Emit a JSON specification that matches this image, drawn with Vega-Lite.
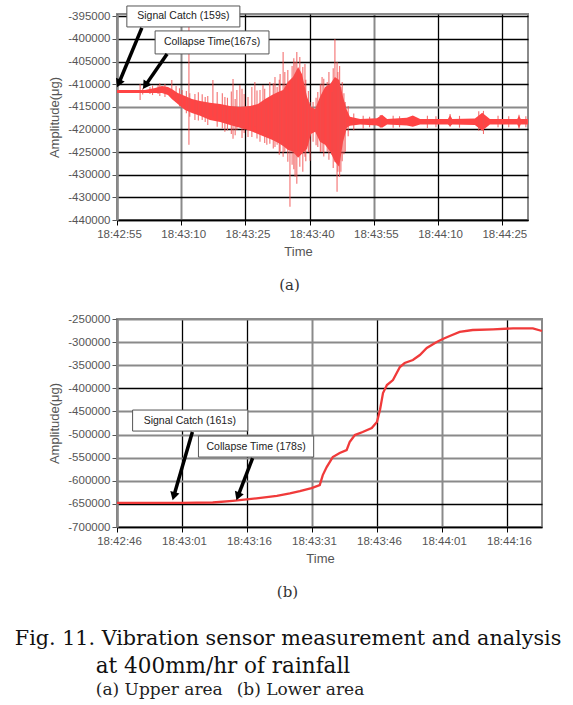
{
  "$schema": "https://vega.github.io/schema/vega-lite/v6.json",
  "background": "white",
  "padding": {"left": 14, "top": 4, "right": 5, "bottom": 5},
  "config": {
    "view": {"stroke": "#8a8a8a", "strokeWidth": 2},
    "axis": {"labelFont": "Liberation Sans", "labelFontSize": 11.5, "labelColor": "#555", "titleFont": "Liberation Sans", "titleFontSize": 13, "titleFontWeight": "normal", "titleColor": "#555", "labelOverlap": false},
    "concat": {"spacing": 18}
  },
  "title": {
    "text": "at 400mm/hr of rainfall",
    "subtitle": "(a) Upper area \u2002(b) Lower area",
    "orient": "bottom", "anchor": "start", "frame": "bounds",
    "font": "DejaVu Serif", "fontSize": 21.5, "fontWeight": "normal", "color": "#111",
    "subtitleFont": "DejaVu Serif", "subtitleFontSize": 17, "subtitleColor": "#222", "subtitlePadding": 4,
    "offset": 8, "dx": 81
  },
  "datasets": {
    "coreA": [
      {"t":55.0,"hi":-411270,"lo":-411930},{"t":58.0,"hi":-411270,"lo":-411930},{"t":61.5,"hi":-411270,"lo":-411930},
      {"t":63.9,"hi":-410820,"lo":-411930},{"t":65.5,"hi":-410380,"lo":-411930},{"t":66.9,"hi":-410600,"lo":-412370},
      {"t":67.8,"hi":-411050,"lo":-413250},{"t":69.2,"hi":-411930,"lo":-414360},{"t":70.9,"hi":-412590,"lo":-415680},
      {"t":72.5,"hi":-413250,"lo":-416340},{"t":74.4,"hi":-413690,"lo":-417000},{"t":76.7,"hi":-414130,"lo":-417890},
      {"t":79.1,"hi":-414360,"lo":-418330},{"t":81.4,"hi":-414800,"lo":-418990},{"t":83.7,"hi":-415020,"lo":-419650},
      {"t":86.1,"hi":-414800,"lo":-420310},{"t":87.9,"hi":-414360,"lo":-420980},{"t":89.6,"hi":-413250,"lo":-421640},
      {"t":91.2,"hi":-412370,"lo":-422300},{"t":92.6,"hi":-411710,"lo":-422960},{"t":93.8,"hi":-411270,"lo":-423630},
      {"t":94.9,"hi":-409500,"lo":-424510},{"t":96.1,"hi":-408400,"lo":-424950},{"t":97.3,"hi":-406190,"lo":-426270},
      {"t":98.2,"hi":-407730,"lo":-425390},{"t":99.4,"hi":-412810,"lo":-424290},{"t":100.3,"hi":-415020,"lo":-420980},
      {"t":101.3,"hi":-415460,"lo":-420530},{"t":102.4,"hi":-412810,"lo":-422740},{"t":103.6,"hi":-410600,"lo":-423400},
      {"t":104.8,"hi":-409940,"lo":-424950},{"t":105.9,"hi":-408400,"lo":-427160},{"t":106.9,"hi":-409060,"lo":-428260},
      {"t":107.8,"hi":-412810,"lo":-422740},{"t":108.7,"hi":-415680,"lo":-419650},{"t":109.4,"hi":-417220,"lo":-419210},
      {"t":111.8,"hi":-417700,"lo":-418900},{"t":115.7,"hi":-417500,"lo":-419100},{"t":116.9,"hi":-416780,"lo":-419650},
      {"t":118.1,"hi":-417700,"lo":-418900},{"t":122.7,"hi":-417400,"lo":-419100},{"t":124.1,"hi":-416900,"lo":-419430},
      {"t":125.8,"hi":-417700,"lo":-418900},{"t":132.3,"hi":-417700,"lo":-418900},{"t":132.8,"hi":-416800,"lo":-419300},
      {"t":133.3,"hi":-417700,"lo":-418900},{"t":138.6,"hi":-417600,"lo":-419000},{"t":140.3,"hi":-416300,"lo":-420300},
      {"t":142.1,"hi":-417700,"lo":-418900},{"t":148.5,"hi":-417700,"lo":-418900},{"t":148.9,"hi":-416900,"lo":-419700},
      {"t":149.3,"hi":-417700,"lo":-418900},{"t":151.0,"hi":-417700,"lo":-418900}
    ],
    "spikesA": [
      {"t":60.4,"hi":-409940,"lo":-413470},{"t":61.0,"hi":-410900,"lo":-412300},{"t":62.7,"hi":-410600,"lo":-412150},
      {"t":63.3,"hi":-410300,"lo":-412400},{"t":64.6,"hi":-410160,"lo":-412150},{"t":65.0,"hi":-409800,"lo":-412600},
      {"t":66.2,"hi":-409940,"lo":-412810},{"t":67.8,"hi":-409060,"lo":-412810},{"t":68.8,"hi":-410380,"lo":-413910},
      {"t":69.6,"hi":-410900,"lo":-414900},{"t":70.2,"hi":-411270,"lo":-415240},{"t":71.2,"hi":-411500,"lo":-416400},
      {"t":71.8,"hi":-394700,"lo":-423400},{"t":72.0,"hi":-412000,"lo":-417200},{"t":73.2,"hi":-412150,"lo":-417890},
      {"t":74.0,"hi":-411800,"lo":-418000},{"t":74.9,"hi":-412200,"lo":-417900},{"t":75.6,"hi":-412810,"lo":-418330},
      {"t":76.2,"hi":-412600,"lo":-419000},{"t":77.4,"hi":-409060,"lo":-417220},{"t":78.4,"hi":-411710,"lo":-419430},
      {"t":79.6,"hi":-412000,"lo":-419800},{"t":80.2,"hi":-412810,"lo":-420530},{"t":80.8,"hi":-413000,"lo":-420200},
      {"t":81.7,"hi":-411600,"lo":-421000},{"t":82.1,"hi":-408840,"lo":-422080},{"t":82.6,"hi":-413300,"lo":-421300},
      {"t":83.0,"hi":-411270,"lo":-420090},{"t":83.7,"hi":-410160,"lo":-419430},{"t":84.2,"hi":-411000,"lo":-421900},
      {"t":84.7,"hi":-412150,"lo":-420760},{"t":85.6,"hi":-412810,"lo":-421640},{"t":86.5,"hi":-410600,"lo":-421640},
      {"t":87.2,"hi":-409500,"lo":-419430},{"t":87.7,"hi":-411400,"lo":-422000},{"t":88.4,"hi":-411270,"lo":-422740},
      {"t":89.1,"hi":-410160,"lo":-420530},{"t":89.5,"hi":-411000,"lo":-423000},{"t":90.0,"hi":-413910,"lo":-423400},
      {"t":90.7,"hi":-409500,"lo":-423180},{"t":91.5,"hi":-409800,"lo":-424200},{"t":91.9,"hi":-408400,"lo":-423850},
      {"t":92.4,"hi":-410600,"lo":-423400},{"t":92.9,"hi":-409000,"lo":-425600},{"t":93.1,"hi":-407730,"lo":-424950},
      {"t":93.8,"hi":-402880,"lo":-426050},{"t":94.2,"hi":-407290,"lo":-424950},{"t":94.9,"hi":-406850,"lo":-427160},
      {"t":95.4,"hi":-411710,"lo":-437090},{"t":95.9,"hi":-406000,"lo":-427800},{"t":96.3,"hi":-404300,"lo":-428800},
      {"t":96.6,"hi":-405090,"lo":-430470},{"t":97.0,"hi":-402880,"lo":-432010},{"t":97.7,"hi":-403990,"lo":-428260},
      {"t":98.4,"hi":-406190,"lo":-429360},{"t":98.9,"hi":-405530,"lo":-426050},{"t":99.1,"hi":-409000,"lo":-427000},
      {"t":99.7,"hi":-411500,"lo":-425000},{"t":100.1,"hi":-413910,"lo":-426940},{"t":100.8,"hi":-413910,"lo":-422740},
      {"t":101.5,"hi":-413000,"lo":-423500},{"t":101.9,"hi":-411710,"lo":-423850},{"t":102.5,"hi":-410000,"lo":-425000},
      {"t":102.9,"hi":-408400,"lo":-424950},{"t":103.3,"hi":-408800,"lo":-426000},{"t":104.1,"hi":-409500,"lo":-424950},
      {"t":104.5,"hi":-407290,"lo":-426710},{"t":105.2,"hi":-411710,"lo":-425610},{"t":105.5,"hi":-406500,"lo":-428500},
      {"t":105.9,"hi":-400010,"lo":-427160},{"t":106.4,"hi":-405090,"lo":-433780},{"t":106.6,"hi":-407290,"lo":-429360},
      {"t":107.0,"hi":-406000,"lo":-430500},{"t":107.3,"hi":-410600,"lo":-429360},{"t":107.6,"hi":-409500,"lo":-427000},
      {"t":108.0,"hi":-412000,"lo":-425500},{"t":108.3,"hi":-413910,"lo":-424950},{"t":109.0,"hi":-414800,"lo":-421500},
      {"t":110.3,"hi":-416500,"lo":-420200},{"t":112.5,"hi":-417000,"lo":-419800},{"t":114.0,"hi":-417200,"lo":-419500},
      {"t":116.5,"hi":-416800,"lo":-419600},{"t":119.5,"hi":-417000,"lo":-419600},{"t":121.0,"hi":-417100,"lo":-419500},
      {"t":127.5,"hi":-417000,"lo":-419700},{"t":129.5,"hi":-417100,"lo":-419500},{"t":132.8,"hi":-416560,"lo":-419430},
      {"t":135.0,"hi":-417000,"lo":-419600},{"t":139.5,"hi":-416000,"lo":-420300},{"t":140.6,"hi":-415900,"lo":-421000},
      {"t":144.0,"hi":-417000,"lo":-419500},{"t":146.5,"hi":-417100,"lo":-419500},{"t":148.9,"hi":-416780,"lo":-419870},
      {"t":150.5,"hi":-417100,"lo":-419500}
    ],
    "boxesA": [
      {"label":"Signal Catch (159s)","t1":57.3,"t2":83.7,"a1":-392730,"a2":-397360,"tc":70.5,"ac":-395040},
      {"label":"Collapse Time(167s)","t1":63.9,"t2":90.5,"a1":-398240,"a2":-403320,"tc":77.2,"ac":-400780}
    ],
    "arrowsA": [
      {"id":1,"t1":60.8,"a1":-397580,"t2":55.4,"a2":-409850},
      {"id":2,"t1":66.7,"a1":-403320,"t2":61.6,"a2":-410320}
    ],
    "lineB": [
      {"t":46.0,"amp":-647700},{"t":53.5,"amp":-647700},{"t":60.9,"amp":-647600},{"t":68.1,"amp":-647000},
      {"t":72.7,"amp":-643400},{"t":78.2,"amp":-638000},{"t":82.9,"amp":-632500},{"t":85.9,"amp":-627500},
      {"t":88.2,"amp":-622500},{"t":90.9,"amp":-615800},{"t":92.8,"amp":-609300},{"t":93.5,"amp":-587700},
      {"t":94.4,"amp":-570300},{"t":95.8,"amp":-548700},{"t":97.4,"amp":-540000},{"t":99.0,"amp":-533500},
      {"t":99.7,"amp":-516200},{"t":100.9,"amp":-501100},{"t":102.7,"amp":-494600},{"t":104.8,"amp":-486000},
      {"t":106.0,"amp":-473000},{"t":106.7,"amp":-447000},{"t":107.4,"amp":-410200},{"t":108.3,"amp":-392900},
      {"t":109.7,"amp":-382000},{"t":111.3,"amp":-353900},{"t":112.4,"amp":-345200},{"t":114.3,"amp":-338700},
      {"t":115.9,"amp":-327900},{"t":117.5,"amp":-312800},{"t":119.8,"amp":-299800},{"t":121.2,"amp":-293300},
      {"t":122.8,"amp":-286800},{"t":125.1,"amp":-278100},{"t":128.1,"amp":-273800},{"t":132.8,"amp":-272300},
      {"t":137.4,"amp":-270200},{"t":142.0,"amp":-270200},{"t":144.1,"amp":-276000}
    ],
    "boxesB": [
      {"label":"Signal Catch (161s)","t1":49.6,"t2":76.2,"a1":-446970,"a2":-492420,"tc":62.8,"ac":-469700},
      {"label":"Collapse Time (178s)","t1":64.8,"t2":91.4,"a1":-503250,"a2":-548700,"tc":78.1,"ac":-526000}
    ],
    "arrowsB": [
      {"id":1,"t1":63.4,"a1":-494600,"t2":59.1,"a2":-633500},
      {"id":2,"t1":77.3,"a1":-550900,"t2":73.9,"a2":-633800}
    ]
  },
  "vconcat": [
    {
      "title": {
        "text": "Fig. 11. Vibration sensor measurement and analysis",
        "orient": "bottom", "anchor": "start", "frame": "bounds",
        "font": "DejaVu Serif", "fontSize": 20.7, "fontWeight": "normal", "color": "#111",
        "offset": 28, "dx": -33
      },
      "vconcat": [
        {
          "width": 411, "height": 206,
          "title": {"text": "(a)", "orient": "bottom", "font": "DejaVu Serif", "fontSize": 15, "fontWeight": "normal", "color": "#333", "dx": -33, "offset": 19},
          "layer": [
            {
              "data": {"name": "coreA"},
              "mark": {"type": "area", "color": "#ff4444", "opacity": 1},
              "encoding": {
                "x": {"field": "t", "type": "quantitative", "title": "Time",
                  "scale": {"domain": [55, 151], "nice": false, "zero": false},
                  "axis": {"values": [55, 70, 85, 100, 115, 130, 145],
                    "labelExpr": "timeFormat(datetime(2020,0,1,18,42,datum.value),'%H:%M:%S')",
                    "grid": true,
                    "gridColor": {"condition": {"test": "datum.value == 70 || datum.value == 115", "value": "#8a8a8a"}, "value": "#000"},
                    "gridWidth": {"condition": {"test": "datum.value == 70 || datum.value == 115", "value": 2}, "value": 1.3},
                    "domainColor": "#000", "domainWidth": 1.5, "tickColor": "#000", "tickSize": 5,
                    "labelPadding": 3, "labelFlush": false, "labelOffset": 2, "titlePadding": 6, "titleX": 181}},
                "y": {"field": "hi", "type": "quantitative", "title": "Amplitude(μg)",
                  "scale": {"domain": [-440000, -394500], "nice": false, "zero": false},
                  "axis": {"values": [-440000, -435000, -430000, -425000, -420000, -415000, -410000, -405000, -400000, -395000],
                    "tickCount": 10,
                    "labelExpr": "datum.value == -435000 ? '-430000' : '' + datum.value",
                    "grid": true,
                    "gridColor": {"condition": {"test": "datum.value == -415000", "value": "#8a8a8a"}, "value": "#000"},
                    "gridWidth": {"condition": {"test": "datum.value == -415000", "value": 2}, "value": 1.3},
                    "domainColor": "#8a8a8a", "domainWidth": 2.5, "tickColor": "#555", "tickSize": 5,
                    "labelPadding": 2, "titlePadding": 6}},
                "y2": {"field": "lo"}
              }
            },
            {
              "data": {"name": "spikesA"},
              "mark": {"type": "rule", "color": "#f04c4c", "strokeWidth": 1.1, "opacity": 0.8},
              "encoding": {
                "x": {"field": "t", "type": "quantitative"},
                "y": {"field": "hi", "type": "quantitative"},
                "y2": {"field": "lo"}
              }
            },
            {
              "data": {"name": "boxesA"},
              "mark": {"type": "rect", "fill": "white", "stroke": "#555", "strokeWidth": 1},
              "encoding": {
                "x": {"field": "t1", "type": "quantitative"}, "x2": {"field": "t2"},
                "y": {"field": "a1", "type": "quantitative"}, "y2": {"field": "a2"}
              }
            },
            {
              "data": {"name": "boxesA"},
              "mark": {"type": "text", "font": "Liberation Sans", "fontSize": 10.5, "color": "#222", "align": "center", "baseline": "middle"},
              "encoding": {
                "x": {"field": "tc", "type": "quantitative"},
                "y": {"field": "ac", "type": "quantitative"},
                "text": {"field": "label"}
              }
            },
            {
              "data": {"name": "arrowsA"},
              "mark": {"type": "rule", "color": "#000", "strokeWidth": 3.5},
              "encoding": {
                "x": {"field": "t1", "type": "quantitative"}, "x2": {"field": "t2"},
                "y": {"field": "a1", "type": "quantitative"}, "y2": {"field": "a2"}
              }
            },
            {
              "data": {"name": "arrowsA"},
              "transform": [{"filter": "datum.id == 1"}],
              "mark": {"type": "point", "shape": "triangle-down", "filled": true, "color": "#000", "opacity": 1, "size": 90, "angle": 23},
              "encoding": {
                "x": {"field": "t2", "type": "quantitative"},
                "y": {"field": "a2", "type": "quantitative"}
              }
            },
            {
              "data": {"name": "arrowsA"},
              "transform": [{"filter": "datum.id == 2"}],
              "mark": {"type": "point", "shape": "triangle-down", "filled": true, "color": "#000", "opacity": 1, "size": 90, "angle": 34},
              "encoding": {
                "x": {"field": "t2", "type": "quantitative"},
                "y": {"field": "a2", "type": "quantitative"}
              }
            }
          ]
        },
        {
          "width": 425, "height": 208,
          "title": {"text": "(b)", "orient": "bottom", "font": "DejaVu Serif", "fontSize": 15, "fontWeight": "normal", "color": "#333", "dx": -42, "offset": 19},
          "layer": [
            {
              "data": {"name": "lineB"},
              "mark": {"type": "line", "color": "#f03a3a", "strokeWidth": 2.3},
              "encoding": {
                "x": {"field": "t", "type": "quantitative", "title": "Time",
                  "scale": {"domain": [46, 144.1], "nice": false, "zero": false},
                  "axis": {"values": [46, 61, 76, 91, 106, 121, 136],
                    "labelExpr": "timeFormat(datetime(2020,0,1,18,42,datum.value),'%H:%M:%S')",
                    "grid": true,
                    "gridColor": {"condition": {"test": "datum.value == 91 || datum.value == 121", "value": "#8a8a8a"}, "value": "#000"},
                    "gridWidth": {"condition": {"test": "datum.value == 91 || datum.value == 121", "value": 2}, "value": 1.3},
                    "domainColor": "#000", "domainWidth": 1.5, "tickColor": "#000", "tickSize": 5,
                    "labelPadding": 3, "labelFlush": false, "labelOffset": 2, "titlePadding": 6, "titleX": 203}},
                "y": {"field": "amp", "type": "quantitative", "title": "Amplitude(μg)",
                  "scale": {"domain": [-700000, -250000], "nice": false, "zero": false},
                  "axis": {"values": [-700000, -650000, -600000, -550000, -500000, -450000, -400000, -350000, -300000, -250000],
                    "tickCount": 10,
                    "labelExpr": "'' + datum.value",
                    "grid": true,
                    "gridColor": {"condition": {"test": "datum.value == -400000 || datum.value == -650000", "value": "#000"}, "value": "#8a8a8a"},
                    "gridWidth": {"condition": {"test": "datum.value == -400000 || datum.value == -650000", "value": 1.3}, "value": 2},
                    "domainColor": "#8a8a8a", "domainWidth": 2.5, "tickColor": "#555", "tickSize": 5,
                    "labelPadding": 2, "titlePadding": 6}}
              }
            },
            {
              "data": {"name": "boxesB"},
              "mark": {"type": "rect", "fill": "white", "stroke": "#555", "strokeWidth": 1},
              "encoding": {
                "x": {"field": "t1", "type": "quantitative"}, "x2": {"field": "t2"},
                "y": {"field": "a1", "type": "quantitative"}, "y2": {"field": "a2"}
              }
            },
            {
              "data": {"name": "boxesB"},
              "mark": {"type": "text", "font": "Liberation Sans", "fontSize": 10.5, "color": "#222", "align": "center", "baseline": "middle"},
              "encoding": {
                "x": {"field": "tc", "type": "quantitative"},
                "y": {"field": "ac", "type": "quantitative"},
                "text": {"field": "label"}
              }
            },
            {
              "data": {"name": "arrowsB"},
              "mark": {"type": "rule", "color": "#000", "strokeWidth": 3.5},
              "encoding": {
                "x": {"field": "t1", "type": "quantitative"}, "x2": {"field": "t2"},
                "y": {"field": "a1", "type": "quantitative"}, "y2": {"field": "a2"}
              }
            },
            {
              "data": {"name": "arrowsB"},
              "transform": [{"filter": "datum.id == 1"}],
              "mark": {"type": "point", "shape": "triangle-down", "filled": true, "color": "#000", "opacity": 1, "size": 90, "angle": 16},
              "encoding": {
                "x": {"field": "t2", "type": "quantitative"},
                "y": {"field": "a2", "type": "quantitative"}
              }
            },
            {
              "data": {"name": "arrowsB"},
              "transform": [{"filter": "datum.id == 2"}],
              "mark": {"type": "point", "shape": "triangle-down", "filled": true, "color": "#000", "opacity": 1, "size": 90, "angle": 21},
              "encoding": {
                "x": {"field": "t2", "type": "quantitative"},
                "y": {"field": "a2", "type": "quantitative"}
              }
            }
          ]
        }
      ]
    }
  ]
}
